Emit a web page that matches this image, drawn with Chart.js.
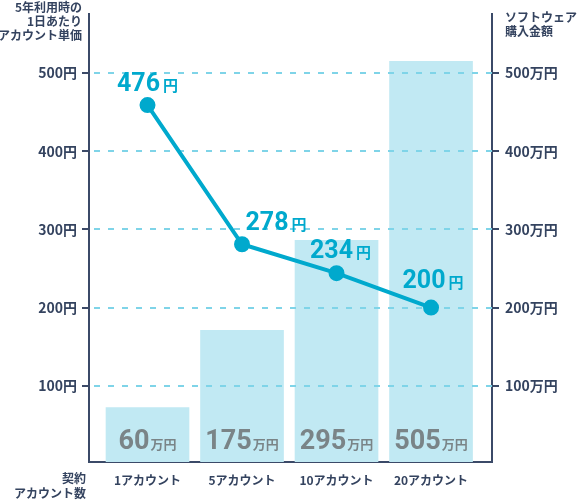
<!DOCTYPE html>
<html><head><meta charset="utf-8">
<script src="https://cdn.jsdelivr.net/npm/chart.js@4/dist/chart.umd.min.js"></script>
<style>html,body{margin:0;padding:0;background:#fff}#wrap{width:577px;height:501px}</style>
</head><body><div id="wrap"><canvas id="c" width="577" height="501"></canvas></div>
<script>
// ---- data ----
const categories = ['1アカウント', '5アカウント', '10アカウント', '20アカウント'];
const pricePrinted = [476, 278, 234, 200];   // printed 1-day price per account (円)
const priceDrawn = [459, 281, 244, 200];     // point heights
const costPrinted = [60, 175, 295, 505];     // printed software cost (万円)
const costDrawn = [72, 171, 286, 515];       // bar heights
const yTicks = [100, 200, 300, 400, 500];
const leftTitle = ['5年利用時の', '1日あたり', 'アカウント単価'];
const rightTitle = ['ソフトウェア', '購入金額'];
const xTitle = ['契約', 'アカウント数'];

// ---- style ----
const AXIS = '#3b4a68', TEXT = '#34435f', GRID = '#7fd4e8', LINE = '#00a9cd',
      BAR = '#c1e9f3', GRAY = '#7a8487';
const JP = '"Noto Sans CJK JP", "Noto Sans", sans-serif';
const NUM = 'Roboto, "Noto Sans", sans-serif';

const textPlugin = {
  id: 'texts',
  afterDatasetDraw(chart, args) {
    if (args.meta.type === 'bar') chart.scales.y.drawGrid(chart.chartArea);
  },
  afterDatasetsDraw(chart, args, opts) {
    const ctx = chart.ctx, ca = chart.chartArea;
    ctx.save();
    ctx.textBaseline = 'alphabetic';
    ctx.textAlign = 'left';
    // bar labels
    const barMeta = chart.getDatasetMeta(1);
    barMeta.data.forEach((el, i) => {
      const num = String(costPrinted[i]);
      ctx.font = 'bold 27px ' + NUM;
      const wn = ctx.measureText(num).width;
      ctx.font = 'bold 13px ' + JP;
      const wu = ctx.measureText('万円').width;
      const total = wn + 1 + wu;
      const x0 = el.x - total / 2, base = ca.bottom - 13;
      ctx.fillStyle = GRAY;
      ctx.font = 'bold 27px ' + NUM;
      ctx.fillText(num, x0, base);
      ctx.font = 'bold 13px ' + JP;
      ctx.fillText('万円', x0 + wn + 1, base);
    });
    // line labels
    const lineMeta = chart.getDatasetMeta(0);
    lineMeta.data.forEach((el, i) => {
      const num = String(pricePrinted[i]);
      ctx.font = 'bold 25px ' + NUM;
      const wn = ctx.measureText(num).width;
      ctx.font = 'bold 15px ' + JP;
      const wu = ctx.measureText('円').width;
      const total = wn + 3 + wu;
      const cx = el.x + opts.shift[i], base = el.y - opts.lift[i];
      const x0 = cx - total / 2;
      ctx.fillStyle = LINE;
      ctx.font = 'bold 25px ' + NUM;
      ctx.fillText(num, x0, base);
      ctx.font = 'bold 15px ' + JP;
      ctx.fillText('円', x0 + wn + 3, base);
    });
    // titles
    ctx.fillStyle = TEXT;
    ctx.textBaseline = 'middle';
    ctx.font = 'bold 12px ' + JP;
    ctx.textAlign = 'right';
    leftTitle.forEach((t, i) => ctx.fillText(t, 82, 7 + i * 14.2));
    xTitle.forEach((t, i) => ctx.fillText(t, 86, 478 + i * 15));
    ctx.textAlign = 'left';
    rightTitle.forEach((t, i) => ctx.fillText(t, 505, 17 + i * 14.5));
    ctx.restore();
  }
};

const yCommon = {
  min: 2.5, max: 575,
  afterBuildTicks: s => { s.ticks = yTicks.map(v => ({ value: v })); },
  border: { color: AXIS, width: 2, dash: [6, 8], dashOffset: 10 },
};

new Chart(document.getElementById('c'), {
  type: 'bar',
  data: {
    datasets: [
      {
        type: 'line', yAxisID: 'y', xAxisID: 'x',
        data: categories.map((c, i) => ({ x: i, y: priceDrawn[i] })),
        borderColor: LINE, backgroundColor: LINE, borderWidth: 4,
        pointRadius: 7, pointBorderWidth: 2, pointBackgroundColor: LINE, pointBorderColor: LINE,
        tension: 0, order: 0
      },
      {
        type: 'bar', yAxisID: 'y2', xAxisID: 'x',
        data: categories.map((c, i) => ({ x: i, y: costDrawn[i] })),
        backgroundColor: BAR, barThickness: 83, order: 1
      }
    ]
  },
  options: {
    responsive: false, animation: false,
    layout: { padding: { top: 14, left: 0, right: 0, bottom: 0 } },
    plugins: {
      legend: { display: false }, tooltip: { enabled: false },
      texts: { shift: [0, 34, 4, 2], lift: [14, 14, 15, 20] }
    },
    scales: {
      x: {
        type: 'linear', min: -0.619, max: 3.645, offset: false,
        afterBuildTicks: s => { s.ticks = categories.map((c, i) => ({ value: i })); },
        ticks: { callback: v => categories[v], font: { family: JP, size: 12, weight: 'bold' },
                 color: TEXT, padding: 11, autoSkip: false, maxRotation: 0 },
        grid: { drawOnChartArea: false, drawTicks: false, offset: false },
        border: { color: AXIS, width: 2 },
        afterFit: s => { s.height = 39; }
      },
      y: Object.assign({}, yCommon, {
        position: 'left',
        ticks: { callback: v => v + '円', font: { family: JP, size: 14, weight: 'bold' }, color: TEXT, padding: 5 },
        grid: { color: GRID, lineWidth: 2, tickColor: AXIS, tickLength: 7, tickWidth: 2 },
        afterFit: s => { s.width = 89; }
      }),
      y2: Object.assign({}, yCommon, {
        position: 'right',
        ticks: { callback: v => v + '万円', font: { family: JP, size: 14, weight: 'bold' }, color: TEXT, padding: 6 },
        grid: { drawOnChartArea: false, color: GRID, lineWidth: 2, tickColor: AXIS, tickLength: 7, tickWidth: 2 },
        border: { color: AXIS, width: 2 },
        afterFit: s => { s.width = 85; }
      })
    }
  },
  plugins: [textPlugin]
});
</script>
</body></html>
